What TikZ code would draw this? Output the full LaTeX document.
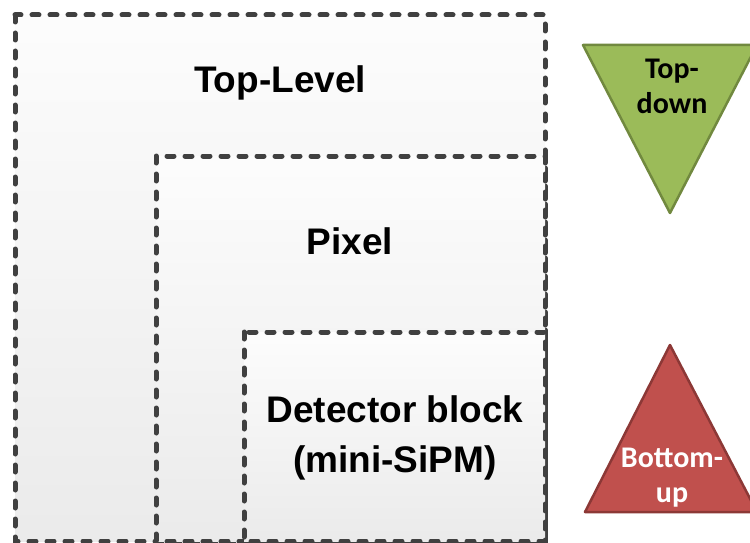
\documentclass[tikz,border=0pt]{standalone}
\usepackage{fontspec}
\setmainfont{Liberation Sans}
\newfontfamily\calib{Carlito}
\begin{document}
\begin{tikzpicture}[x=1pt,y=-1pt,
  levelbox/.style={draw=black!75, line width=5pt, line cap=round,
    dash pattern=on 7pt off 11pt, top color=white!99!black, bottom color=white!92!black},
  levellabel/.style={font=\fontsize{37}{50}\selectfont\bfseries, align=center, inner sep=0pt},
  trilabel/.style={font=\calib\fontsize{30}{35}\selectfont\bfseries, align=center, inner sep=0pt}
]
\useasboundingbox (0,0) rectangle (750,543);
% nested design levels
\draw[levelbox] (15,15) rectangle (545,541);
\draw[levelbox] (156,156) rectangle (545,541);
\draw[levelbox] (244,332) rectangle (545,541);
\node[levellabel] (top) at (280,83) {Top-Level};
\node[levellabel] (pix) at (350,241) {Pixel};
\node[levellabel] (det) at (395,438) {Detector block\\(mini-SiPM)};
% top-down arrow
\coordinate (g1) at (583,45);
\coordinate (g2) at (757,45);
\coordinate (g3) at (670,213);
\draw[fill={rgb,255:red,155;green,187;blue,89}, draw={rgb,255:red,113;green,137;blue,63}, line width=2.5pt, line join=round]
  (g1) -- (g2) -- (g3) -- cycle;
\node[trilabel] (td) at (672,86) {Top-\\down};
% bottom-up arrow
\coordinate (r1) at (585,512);
\coordinate (r2) at (757,512);
\coordinate (r3) at (670,345);
\draw[fill={rgb,255:red,192;green,80;blue,77}, draw={rgb,255:red,140;green,56;blue,54}, line width=2.5pt, line join=round]
  (r1) -- (r2) -- (r3) -- cycle;
\node[trilabel, text=white] (bu) at (672,478) {Bottom-\\up};
\end{tikzpicture}
\end{document}
